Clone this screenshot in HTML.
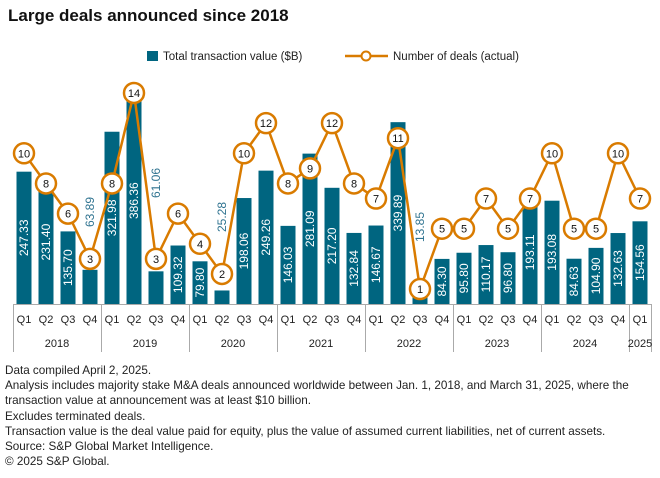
<!DOCTYPE html>
<html><head><meta charset="utf-8"><style>
body{margin:0;background:#fff;width:660px;height:478px;overflow:hidden;font-family:"Liberation Sans",sans-serif}
.t{position:absolute;left:8px;top:6px;font-size:17px;font-weight:bold;color:#111}
.notes{position:absolute;left:5px;top:363px;font-size:11.7px;line-height:15.2px;color:#222;white-space:nowrap}
</style></head><body>
<div class="t">Large deals announced since 2018</div>
<svg id="c" width="660" height="478" style="position:absolute;left:0;top:0" xmlns="http://www.w3.org/2000/svg" font-family="Liberation Sans, sans-serif"></svg>
<div class="notes">Data compiled April 2, 2025.<br>Analysis includes majority stake M&amp;A deals announced worldwide between Jan. 1, 2018, and March 31, 2025, where the<br>transaction value at announcement was at least $10 billion.<br>Excludes terminated deals.<br>Transaction value is the deal value paid for equity, plus the value of assumed current liabilities, net of current assets.<br>Source: S&amp;P Global Market Intelligence.<br>© 2025 S&amp;P Global.</div>
<script>
var v=[247.33,231.40,135.70,63.89,321.98,386.36,61.06,109.32,79.80,25.28,198.06,249.26,146.03,281.09,217.20,132.84,146.67,339.89,13.85,84.30,95.80,110.17,96.80,193.11,193.08,84.63,104.90,132.63,154.56];
var n=[10,8,6,3,8,14,3,6,4,2,10,12,8,9,12,8,7,11,1,5,5,7,5,7,10,5,5,10,7];
var outY={3:212,6:183,9:217,18:227};
var s='',B=304,O='#d97b00',C='#006580';
s+='<rect x="147" y="51" width="11" height="10" fill="'+C+'"/><text x="163" y="60" font-size="11.5" fill="#222">Total transaction value ($B)</text>';
s+='<line x1="345" y1="56" x2="388" y2="56" stroke="'+O+'" stroke-width="2.5"/><circle cx="366" cy="56" r="4.5" fill="#fff" stroke="'+O+'" stroke-width="2"/><text x="393" y="60" font-size="11.5" fill="#222">Number of deals (actual)</text>';
var pts=[];
for(var i=0;i<29;i++){var x=24+22*i,h=v[i]*0.535;
s+='<rect x="'+(x-7.5)+'" y="'+(B-h)+'" width="15" height="'+h+'" fill="'+C+'"/>';
var lab=v[i].toFixed(2);
if(outY[i]){s+='<text transform="translate('+(x+4)+','+outY[i]+') rotate(-90)" text-anchor="middle" font-size="12" fill="#2f7390">'+lab+'</text>';}
else{var cy=B-h/2;s+='<text transform="translate('+(x+4)+','+cy+') rotate(-90)" text-anchor="middle" font-size="12" fill="#fff">'+lab+'</text>';}
pts.push(x+','+(304.1-15.08*n[i]));
s+='<text x="'+x+'" y="323" text-anchor="middle" font-size="11" fill="#222">Q'+(i%4+1)+'</text>';
}
s+='<polyline points="'+pts.join(' ')+'" fill="none" stroke="'+O+'" stroke-width="2.5"/>';
for(var i=0;i<29;i++){var x=24+22*i,y=304.1-15.08*n[i];
s+='<circle cx="'+x+'" cy="'+y+'" r="10" fill="#fff" stroke="'+O+'" stroke-width="2.5"/><text x="'+x+'" y="'+(y+4)+'" text-anchor="middle" font-size="11" fill="#111">'+n[i]+'</text>';}
s+='<line x1="13" y1="304.5" x2="651" y2="304.5" stroke="#aaa"/>';
var sep=[13,101,189,277,365,453,541,629,651];
sep.forEach(function(x){s+='<line x1="'+(x+.5)+'" y1="304" x2="'+(x+.5)+'" y2="352" stroke="#aaa"/>';});
var yrs=['2018','2019','2020','2021','2022','2023','2024','2025'];
for(var k=0;k<8;k++){var cx=(sep[k]+sep[k+1])/2;s+='<text x="'+cx+'" y="347" text-anchor="middle" font-size="11" fill="#222">'+yrs[k]+'</text>';}
document.getElementById('c').innerHTML=s;
</script>
</body></html>
